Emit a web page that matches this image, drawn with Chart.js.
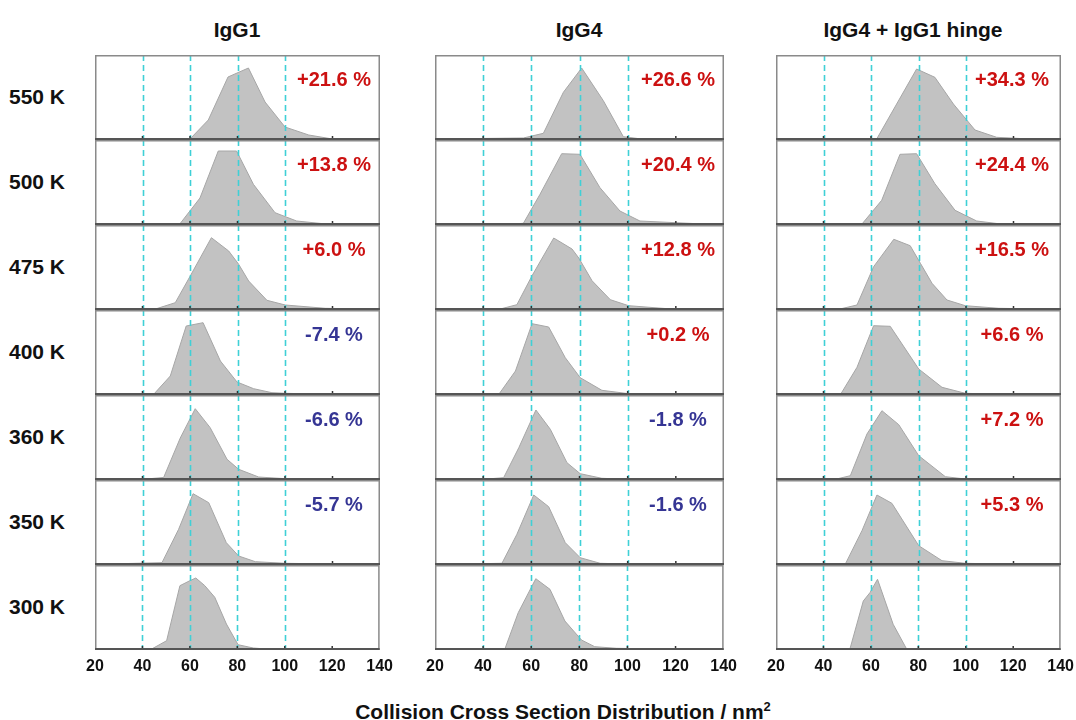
<!DOCTYPE html>
<html>
<head>
<meta charset="utf-8">
<script src="https://cdn.jsdelivr.net/npm/chart.js@4.4.1/dist/chart.umd.min.js"></script>
<style>
  html, body { margin: 0; padding: 0; background: #ffffff; }
  #stage { position: relative; width: 1076px; height: 720px; overflow: hidden;
           font-family: "Liberation Sans", Arial, sans-serif; font-weight: bold; color: #111; }
  #stage canvas { position: absolute; }
  .lbl { position: absolute; white-space: nowrap; line-height: 1; }
</style>
</head>
<body>
<div id="stage"></div>
<script>
// Panel titles (columns) and temperatures (rows)
const proteins = ['IgG1', 'IgG4', 'IgG4 + IgG1 hinge'];
const temperatures = ['550 K', '500 K', '475 K', '400 K', '360 K', '350 K', '300 K'];
const xTickValues = [20, 40, 60, 80, 100, 120, 140];
const guideValues = [40, 60, 80, 100];

// CCS shift relative to 300 K (%), rows 550 K .. 350 K
const shiftIgG1 = [21.6, 13.8, 6.0, -7.4, -6.6, -5.7];
const shiftIgG4 = [26.6, 20.4, 12.8, 0.2, -1.8, -1.6];
const shiftHinge = [34.3, 24.4, 16.5, 6.6, 7.2, 5.3];

// CCS distributions: [CCS / nm^2, relative intensity]
const igg1_550 = [[20,1],[60,1],[67.7,20],[76,63],[84.6,72],[91.6,38],[100,13],[110,5],[120,1],[140,0.5]];
const igg1_500 = [[20,1.3],[55.8,1.3],[64.2,27],[71.9,74],[79.6,74],[86.7,40.7],[95.8,12.3],[104.9,4],[116,1.3],[130,0.7],[140,0.5]];
const igg1_475 = [[20,0.7],[46.1,1.5],[53.8,7.3],[60.1,34],[69,72.3],[76.3,59],[80.5,45.7],[84.7,29],[92.4,9.7],[100.1,5],[117,1.7],[140,0.7]];
const igg1_400 = [[20,0.7],[44.7,0.7],[51.7,19],[58.4,69],[65.5,72.3],[72.8,34],[79.8,13],[86.8,6.3],[94.5,2.3],[100.1,1.7],[117,0.7],[140,0.5]];
const igg1_360 = [[20,0.7],[40,0.7],[48.9,2.5],[55.9,42],[62.2,71.3],[68.5,52.3],[75.6,20.7],[80.5,10.7],[88.9,3],[100.1,1.3],[119.8,0.3],[140,0.3]];
const igg1_350 = [[20,0.7],[48.2,2.3],[55.2,35.7],[61.3,71.3],[67.9,62.3],[75.3,22.3],[80.5,9],[87.5,3.3],[100.1,1.7],[111.4,1.3],[120,0.3],[140,0.3]];
const igg1_300 = [[20,0.7],[43.9,1],[50.2,9.3],[55.8,64.3],[60,69.3],[62.5,72],[66.3,64.3],[70.5,52.7],[75.4,26],[80.3,5.3],[86.7,2],[93.7,0.7],[140,0.3]];

const igg4_550 = [[20,1],[56.7,2],[65,6.7],[73.3,47.7],[80.9,72],[89.9,39.3],[98.2,3.3],[105.8,1],[120,0.3],[140,0.3]];
const igg4_500 = [[20,0.7],[50.4,0.7],[56.7,1.7],[63.6,30.7],[72.6,71.3],[80.2,70.7],[88.5,37.3],[96.8,14],[105.1,4],[128.7,1.3],[140,1]];
const igg4_475 = [[20,0.7],[47.1,1],[54,5.3],[60.3,34.3],[69.3,72],[76.9,61],[79.7,52],[85.2,29.3],[92.8,10.3],[100.4,4.3],[119.8,0.7],[140,0.5]];
const igg4_400 = [[20,0.7],[46.5,0.7],[53.4,24],[60.3,71.3],[67.2,68],[74.1,37.3],[80.3,17.3],[89.3,4.7],[100.4,1.3],[120,0.7],[140,0.5]];
const igg4_360 = [[20,0.7],[40,0.7],[48.5,2.3],[54.8,32.3],[61.9,70],[67.9,50.7],[74.8,17.3],[80.3,6.3],[89.3,1.7],[100.4,0.7],[140,0.3]];
const igg4_350 = [[20,0.5],[47.8,1.7],[54,30.7],[61,70],[67.2,58.3],[74.1,22.3],[80.3,7.3],[88.6,1.7],[100.4,1],[120,0.3],[140,0.3]];
const igg4_300 = [[20,0.7],[49.1,1.3],[54.6,37.3],[61.9,71.3],[67.8,60.7],[74,29],[80.9,10],[86.4,3.3],[95.5,1.7],[120,0.7],[140,0.5]];

const hinge_550 = [[20,0.3],[62.4,1],[70.8,36],[79.2,71],[86.9,62.7],[94.7,36],[103.8,10],[112.9,2.7],[126.9,1],[140,0.3]];
const hinge_500 = [[20,0.7],[56.1,0.7],[64.5,24.7],[72.2,70.7],[79.2,71.3],[86.9,41.3],[95.4,14.7],[104.5,4],[115.7,0.7],[140,0.5]];
const hinge_475 = [[20,0.7],[46.4,0.7],[54.1,5],[61.1,43.3],[69.6,70.7],[76.5,64.3],[80.8,46.7],[85.7,26.7],[92,10],[99.7,4.3],[113.8,1.7],[140,0.7]];
const hinge_400 = [[20,0.3],[47.1,0.3],[54.1,27.7],[61.1,69.3],[68.1,68.7],[80.1,26],[89.9,7.7],[99.7,1.7],[120,0.3],[140,0.3]];
const hinge_360 = [[20,0.3],[44.3,0.3],[51.3,4.3],[58.3,46],[64.6,69.3],[71.7,55.3],[80.1,24.3],[91.3,3.3],[99.7,1],[120,0.3],[140,0.3]];
const hinge_350 = [[20,0.5],[49.2,1],[56.2,34.3],[62.5,70],[68.8,61.7],[80.1,19.3],[89.9,4.3],[99.7,1.7],[120,0.7],[140,0.5]];
const hinge_300 = [[20,0.7],[51.2,1.3],[56.8,49],[59.6,57.3],[62.8,70.7],[69.4,25.7],[75,1.3],[90,0.7],[140,0.5]];

const seriesByColumn = [
  [igg1_550, igg1_500, igg1_475, igg1_400, igg1_360, igg1_350, igg1_300],
  [igg4_550, igg4_500, igg4_475, igg4_400, igg4_360, igg4_350, igg4_300],
  [hinge_550, hinge_500, hinge_475, hinge_400, hinge_360, hinge_350, hinge_300]
];
const shiftsByColumn = [shiftIgG1, shiftIgG4, shiftHinge];

// Layout of the panel grid
const colLeft = [95, 435, 776];
const colWidth = [285, 289, 285];
const titleCenter = [237, 579, 913];
const shiftCenter = [334, 678, 1012];
const gridTop = 55;
const rowHeight = 85;
const sidePad = 20;
const tickBand = 30;
const yMax = 85;

const stage = document.getElementById('stage');

function addLabel(text, css) {
  const d = document.createElement('div');
  d.className = 'lbl';
  d.textContent = text;
  Object.assign(d.style, css);
  stage.appendChild(d);
  return d;
}

// Dashed cyan guides at the x-scale reference values, drawn over the filled areas
const guidePlugin = {
  id: 'ccsGuides',
  afterDatasetsDraw(chart) {
    const { ctx, chartArea: a } = chart;
    const xs = chart.scales.x;
    ctx.save();
    ctx.strokeStyle = '#3fd0d6';
    ctx.lineWidth = 1.6;
    ctx.setLineDash([6, 4]);
    guideValues.forEach(v => {
      const px = Math.round(xs.getPixelForValue(v)) + 0.5;
      ctx.beginPath();
      ctx.moveTo(px, a.top);
      ctx.lineTo(px, a.bottom);
      ctx.stroke();
    });
    ctx.restore();
  }
};

// Frame around each panel, darker baseline, small tick marks on the baseline
const framePlugin = {
  id: 'panelFrame',
  afterDraw(chart) {
    const { ctx, chartArea: a } = chart;
    const xs = chart.scales.x;
    ctx.save();
    ctx.strokeStyle = '#8a8a8a';
    ctx.lineWidth = 1.5;
    ctx.beginPath();
    ctx.moveTo(a.left + 0.75, a.bottom);
    ctx.lineTo(a.left + 0.75, a.top + 0.75);
    ctx.lineTo(a.right - 0.75, a.top + 0.75);
    ctx.lineTo(a.right - 0.75, a.bottom);
    ctx.stroke();
    ctx.strokeStyle = '#555555';
    ctx.lineWidth = 2;
    ctx.beginPath();
    ctx.moveTo(a.left, a.bottom - 1);
    ctx.lineTo(a.right, a.bottom - 1);
    ctx.stroke();
    ctx.strokeStyle = '#333333';
    ctx.lineWidth = 1.5;
    xTickValues.slice(1, -1).forEach(v => {
      const px = xs.getPixelForValue(v);
      ctx.beginPath();
      ctx.moveTo(px, a.bottom - 2);
      ctx.lineTo(px, a.bottom - 4);
      ctx.stroke();
    });
    ctx.restore();
  }
};

function formatShift(v) {
  return (v >= 0 ? '+' : '-') + Math.abs(v).toFixed(1) + ' %';
}

proteins.forEach((name, c) => {
  addLabel(name, { left: titleCenter[c] + 'px', top: '19px', fontSize: '21px', transform: 'translateX(-50%)' });

  temperatures.forEach((temp, r) => {
    const isBottom = r === temperatures.length - 1;
    const top = gridTop + r * rowHeight;
    const canvas = document.createElement('canvas');
    const w = colWidth[c] + 2 * sidePad;
    const h = rowHeight + (isBottom ? tickBand : 0);
    canvas.width = w; canvas.height = h;
    canvas.style.width = w + 'px'; canvas.style.height = h + 'px';
    canvas.style.left = (colLeft[c] - sidePad) + 'px';
    canvas.style.top = top + 'px';
    stage.appendChild(canvas);

    new Chart(canvas, {
      type: 'line',
      data: {
        datasets: [{
          data: seriesByColumn[c][r],
          fill: 'origin',
          backgroundColor: '#c2c2c2',
          borderColor: '#a6a6a6',
          borderWidth: 1,
          pointRadius: 0,
          tension: 0
        }]
      },
      plugins: [guidePlugin, framePlugin],
      options: {
        responsive: false,
        animation: false,
        devicePixelRatio: 1,
        layout: { padding: { left: sidePad, right: sidePad, top: 0, bottom: 0 } },
        plugins: { legend: { display: false }, tooltip: { enabled: false } },
        scales: {
          x: {
            type: 'linear',
            min: 20, max: 140,
            afterBuildTicks: s => { s.ticks = xTickValues.map(v => ({ value: v })); },
            afterFit: s => { s.height = isBottom ? tickBand : 0; },
            border: { display: false },
            grid: { display: false, drawTicks: false },
            ticks: {
              display: isBottom,
              padding: 7,
              color: '#111111',
              font: { family: '"Liberation Sans", Arial, sans-serif', weight: 'bold', size: 16 }
            }
          },
          y: { display: false, min: 0, max: yMax }
        }
      }
    });

    if (c === 0) {
      addLabel(temp, { left: '9px', top: (top + rowHeight / 2 - 12) + 'px', fontSize: '21px' });
    }
    const shifts = shiftsByColumn[c];
    if (r < shifts.length) {
      const v = shifts[r];
      addLabel(formatShift(v), {
        left: shiftCenter[c] + 'px', top: (top + 14) + 'px', fontSize: '20px',
        transform: 'translateX(-50%)', color: v >= 0 ? '#cc1111' : '#353594'
      });
    }
  });
});

const axisTitle = addLabel('Collision Cross Section Distribution / nm', { left: '563px', top: '700px', fontSize: '21px', transform: 'translateX(-50%)' });
const sup = document.createElement('sup');
sup.textContent = '2';
sup.style.fontSize = '13px';
sup.style.verticalAlign = '8px';
axisTitle.appendChild(sup);
</script>
</body>
</html>
